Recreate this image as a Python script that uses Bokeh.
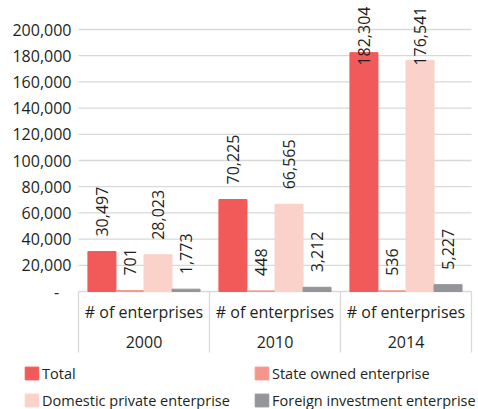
import numpy as np
from bokeh.plotting import figure
from bokeh.models import (ColumnDataSource, Range1d, FixedTicker, Legend, LegendItem)
from bokeh.core.properties import value
from bokeh.embed import file_html
from bokeh.resources import INLINE

# ---------------- data ----------------
years = ["2000", "2010", "2014"]
group_label = "# of enterprises"
series_names = ["Total", "State owned enterprise",
                "Domestic private enterprise", "Foreign investment enterprise"]
series_colors = ["#F15A59", "#F6958A", "#FAD2C9", "#939598"]
total = [30497, 70225, 182304]
state_owned = [701, 448, 536]
domestic_private = [28023, 66565, 176541]
foreign_investment = [1773, 3212, 5227]
series_values = [total, state_owned, domestic_private, foreign_investment]

y_ticks = [0, 20000, 40000, 60000, 80000, 100000, 120000, 140000, 160000, 180000, 200000]
y_tick_labels = ["-\u00a0\u00a0\u00a0", "20,000", "40,000", "60,000", "80,000", "100,000",
                 "120,000", "140,000", "160,000", "180,000", "200,000"]

# ---------------- style / layout ----------------
FONT = "Open Sans"
TEXT = "#231F20"
GRID = "#D9D9D9"
W, H = 478, 409
bar_width = 0.214
offsets = [-0.321, -0.107, 0.107, 0.321]
UX = 3 / 393.0               # x data units per pixel
PX = 200000 / 262.0          # y data units per pixel
X_START, X_END = -78 * UX, 3 + 7 * UX
Y_TOP, Y_BOTTOM = 291 * PX, -118 * PX
BOX_BOTTOM = -61 * PX
ROW1_Y = -20 * PX            # "# of enterprises" row
ROW2_Y = -50 * PX            # year row
label_cap = 161000           # labels of very tall bars are kept inside the chart area

p = figure(width=W, height=H, output_backend="svg", toolbar_location=None,
           x_range=Range1d(X_START, X_END), y_range=Range1d(Y_BOTTOM, Y_TOP),
           min_border_left=0, min_border_right=0, min_border_top=0,
           min_border_bottom=0, x_axis_location=None)
p.outline_line_color = None
p.xgrid.visible = False
p.ygrid.visible = False

n = len(years)
centers = np.arange(n) + 0.5
bounds = np.arange(n + 1)

# horizontal gridlines across the plot area
p.segment(x0=[0] * len(y_ticks), y0=y_ticks, x1=[n] * len(y_ticks), y1=y_ticks,
          line_color=GRID, line_width=1.3)

renderers = []
for name, color, vals, off in zip(series_names, series_colors, series_values, offsets):
    src = ColumnDataSource(dict(x=centers + off, top=vals,
                                ly=np.minimum(vals, label_cap),
                                txt=[f"{v:,}" for v in vals]))
    r = p.vbar(x="x", top="top", bottom=0, width=bar_width, source=src,
               fill_color=color, line_color=color, line_width=1)
    renderers.append(r)
    p.text(x="x", y="ly", text="txt", source=src, angle=np.pi / 2,
           text_align="left", text_baseline="middle", y_offset=-15,
           text_font=value(FONT), text_font_size="16px", text_color=TEXT)

# category boxes under the bars
p.segment(x0=bounds, y0=[0] * (n + 1), x1=bounds, y1=[BOX_BOTTOM] * (n + 1),
          line_color=GRID, line_width=1.3)
p.text(x=centers, y=[ROW1_Y] * n, text=[group_label] * n, text_align="center",
       text_baseline="middle", text_font=value(FONT), text_font_size="16px",
       text_color=TEXT)
p.text(x=centers, y=[ROW2_Y] * n, text=years, text_align="center",
       text_baseline="middle", text_font=value(FONT), text_font_size="16px",
       text_color=TEXT)

# y axis drawn at x = 0 (left edge of the category area)
yax = p.yaxis[0]
yax.fixed_location = 0
yax.ticker = FixedTicker(ticks=y_ticks)
yax.major_label_overrides = {t: l for t, l in zip(y_ticks, y_tick_labels)}
yax.axis_line_color = None
yax.major_tick_line_color = None
yax.minor_tick_line_color = None
yax.major_label_standoff = 1
yax.major_label_text_font = FONT
yax.major_label_text_font_size = "16px"
yax.major_label_text_color = TEXT

# legends
def make_legend(idx, loc):
    return Legend(items=[LegendItem(label=series_names[i], renderers=[renderers[i]]) for i in idx],
                  location=loc, orientation="vertical",
                  glyph_width=17, glyph_height=16, label_height=20, label_standoff=2,
                  spacing=7, padding=0, margin=0, border_line_color=None,
                  background_fill_alpha=0, label_text_font=FONT,
                  label_text_font_size="14.5px", label_text_color=TEXT)

p.add_layout(make_legend([0, 2], (23, -1)))
p.add_layout(make_legend([1, 3], (253, -1)))

open("out.html", "w").write(file_html(p, INLINE))
